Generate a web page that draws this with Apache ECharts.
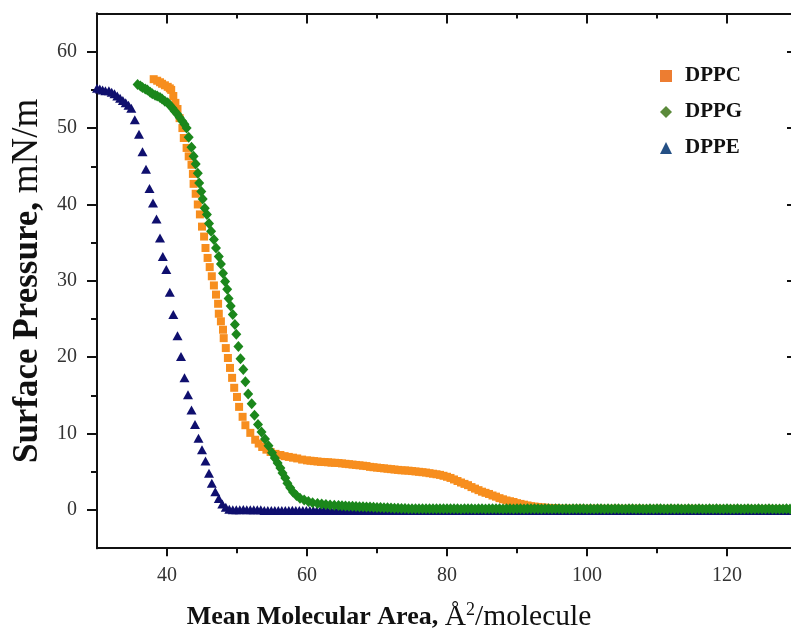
<!DOCTYPE html>
<html>
<head>
<meta charset="utf-8">
<script src="https://cdn.jsdelivr.net/npm/echarts@6/dist/echarts.min.js"></script>
<style>
  html, body { margin: 0; padding: 0; background: #fff; }
  #chart { width: 791px; height: 641px; }
</style>
</head>
<body>
<div id="chart"></div>
<script>
// Langmuir isotherms: surface pressure vs. mean molecular area
const seriesNames = ['DPPC', 'DPPG', 'DPPE'];

const dppcArea = [
  38.1,38.6,39.0,39.3,39.7,40.1,40.4,40.6,40.9,41.2,
  41.5,41.8,42.2,42.4,42.8,43.1,43.5,43.7,43.8,44.1,
  44.4,44.7,45.0,45.3,45.5,45.8,46.1,46.4,46.7,47.0,
  47.3,47.4,47.7,48.0,48.1,48.4,48.7,49.0,49.3,49.6,
  50.0,50.3,50.8,51.2,51.9,52.6,53.1,53.6,54.2,54.8,
  55.5,56.2,56.8,57.4,58.0,58.6,59.3,
  60.0,60.5,61.0,61.5,62.0,62.5,63.0,63.5,64.0,64.5,
  65.0,65.5,66.0,66.5,67.0,67.5,68.0,68.5,69.0,69.5,
  70.0,70.5,71.0,71.5,72.0,72.5,73.0,73.5,74.0,74.5,
  75.0,75.5,76.0,76.5,77.0,77.5,78.0,78.5,79.0,79.5,
  80.0,80.5,81.0,81.5,82.0,82.5,83.0,83.5,84.0,84.5,
  85.0,85.5,86.0,86.5,87.0,87.5,88.0,88.5,89.0,89.5,
  90.0,90.5,91.0,91.5,92.0,92.5,93.0,93.5,94.0,94.5,95.0,95.5,
  96,97,98,99,100,101,102,103,104,105,
  106,107,108,109,110,111,112,113,114,115,
  116,117,118,119,120,121,122,123,124,125,
  126,127,128,129,130
];
const dppcPressure = [
  56.4,56.2,56.0,55.8,55.6,55.4,55.2,55.0,54.2,53.3,
  52.5,51.3,50.0,48.7,47.4,46.3,45.2,44.0,42.7,41.4,
  40.0,38.7,37.1,35.8,34.3,33.0,31.8,30.6,29.4,28.2,
  27.0,25.7,24.7,23.6,22.5,21.2,19.9,18.6,17.3,16.0,
  14.8,13.5,12.2,11.1,10.1,9.2,8.7,8.25,7.9,7.6,
  7.35,7.2,7.05,6.95,6.85,6.75,6.6,
  6.5,6.45,6.4,6.35,6.3,6.28,6.25,6.2,6.18,6.15,
  6.1,6.05,6.0,5.95,5.9,5.85,5.8,5.75,5.65,5.6,
  5.55,5.5,5.45,5.4,5.35,5.3,5.25,5.2,5.18,5.15,
  5.1,5.05,5.0,4.95,4.9,4.82,4.75,4.68,4.6,4.48,
  4.35,4.2,4.0,3.8,3.6,3.42,3.25,3.0,2.8,2.6,
  2.4,2.25,2.1,1.9,1.75,1.55,1.4,1.25,1.15,1.05,
  0.9,0.8,0.7,0.6,0.5,0.45,0.4,0.35,0.3,0.28,0.25,0.22,
  0.2,0.19,0.18,0.18,0.17,0.18,0.17,0.16,0.17,0.16,
  0.16,0.17,0.16,0.15,0.16,0.15,0.16,0.15,0.15,0.16,
  0.15,0.14,0.15,0.15,0.14,0.15,0.14,0.15,0.14,0.14,
  0.15,0.14,0.14,0.13,0.14
];

const dppgArea = [
  35.8,36.2,36.5,36.9,37.2,37.6,37.9,38.3,38.6,39.0,
  39.3,39.7,40.1,40.4,40.8,41.1,41.5,41.8,42.2,42.5,
  42.8,43.1,43.5,43.8,44.1,44.4,44.6,44.9,45.1,45.4,
  45.7,46.0,46.3,46.7,47.0,47.4,47.7,48.0,48.3,48.6,
  48.8,49.1,49.4,49.7,49.9,50.2,50.5,50.9,51.2,51.6,
  52.1,52.5,53.0,53.5,54.0,54.5,55.0,55.4,55.8,56.2,
  56.5,56.9,57.2,57.6,58.0,58.5,59.0,59.6,60.2,60.8,
  61.5,62.1,62.7,63.3,63.9,64.5,65.0,
  65.5,66.0,66.5,67.0,67.5,68.0,68.5,69.0,69.5,70.0,
  70.5,71.0,71.5,72.0,72.5,73.0,73.5,74.0,74.5,75.0,
  75.5,76.0,76.5,77.0,77.5,78.0,78.5,79.0,79.5,80.0,
  80.5,81.0,81.5,82.0,82.5,83.0,83.5,84.0,84.5,85.0,
  85.5,86.0,86.5,87.0,87.5,88.0,88.5,89.0,89.5,90.0,
  90.5,91.0,91.5,92.0,92.5,93.0,93.5,94.0,94.5,95.0,
  95.5,96.0,96.5,97.0,97.5,98.0,98.5,99.0,99.5,100.0,
  100.5,101.0,101.5,102.0,102.5,103.0,103.5,104.0,104.5,105.0,
  105.5,106.0,106.5,107.0,107.5,108.0,108.5,109.0,109.5,110.0,
  110.5,111.0,111.5,112.0,112.5,113.0,113.5,114.0,114.5,115.0,
  115.5,116.0,116.5,117.0,117.5,118.0,118.5,119.0,119.5,120.0,
  120.5,121.0,121.5,122.0,122.5,123.0,123.5,124.0,124.5,125.0,
  125.5,126.0,126.5,127.0,127.5,128.0,128.5,129.0,129.5,130.0
];
const dppgPressure = [
  55.7,55.5,55.3,55.1,55.0,54.7,54.5,54.3,54.2,54.0,
  53.8,53.5,53.3,53.0,52.6,52.2,51.8,51.4,50.9,50.5,
  50.0,48.8,47.5,46.3,45.3,44.1,42.8,41.7,40.7,39.5,
  38.7,37.5,36.5,35.4,34.3,33.2,32.2,31.0,29.9,28.9,
  27.7,26.7,25.6,24.3,23.0,21.4,19.8,18.4,16.8,15.2,
  13.9,12.4,11.2,10.2,9.3,8.4,7.5,6.8,6.15,5.5,
  4.85,4.2,3.5,2.9,2.35,1.9,1.55,1.3,1.1,0.95,
  0.85,0.78,0.72,0.66,0.62,0.58,0.55,
  0.53,0.5,0.48,0.46,0.44,0.42,0.4,0.38,0.36,0.34,
  0.32,0.3,0.28,0.26,0.24,0.22,0.2,0.19,0.18,0.17,
  0.17,0.16,0.17,0.16,0.15,0.16,0.15,0.16,0.15,0.15,
  0.16,0.15,0.15,0.14,0.15,0.16,0.15,0.14,0.15,0.15,
  0.14,0.15,0.16,0.15,0.15,0.14,0.15,0.15,0.14,0.15,
  0.15,0.14,0.15,0.15,0.16,0.15,0.14,0.15,0.15,0.14,
  0.15,0.15,0.14,0.15,0.14,0.15,0.15,0.16,0.15,0.14,
  0.15,0.14,0.15,0.15,0.14,0.15,0.14,0.15,0.15,0.14,
  0.14,0.15,0.15,0.14,0.15,0.14,0.14,0.15,0.14,0.15,
  0.15,0.14,0.14,0.15,0.14,0.15,0.14,0.14,0.15,0.14,
  0.14,0.15,0.14,0.14,0.15,0.14,0.15,0.14,0.14,0.15,
  0.14,0.14,0.15,0.14,0.14,0.15,0.14,0.14,0.15,0.14,
  0.14,0.15,0.14,0.14,0.13,0.14,0.15,0.14,0.14,0.14
];

const dppeArea = [
  30.0,30.4,30.8,31.2,31.7,32.1,32.5,32.9,33.3,33.7,
  34.1,34.5,34.9,35.4,36.0,36.5,37.0,37.5,38.0,38.5,
  39.0,39.4,39.9,40.4,40.9,41.5,42.0,42.5,43.0,43.5,
  44.0,44.5,45.0,45.5,46.0,46.4,46.9,47.4,47.9,48.4,
  48.9,49.4,49.9,
  50.4,50.9,51.4,51.9,52.4,52.9,53.4,53.9,54.4,54.9,
  55.4,55.9,56.4,56.9,57.4,57.9,58.4,58.9,59.4,59.9,
  60.4,60.9,61.4,61.9,62.4,62.9,63.4,63.9,64.4,64.9,
  65.4,65.9,66.4,66.9,67.4,67.9,68.4,68.9,69.4,69.9,
  70.4,70.9,71.4,71.9,72.4,72.9,73.4,73.9,74.4,74.9,
  75.4,75.9,76.4,76.9,77.4,77.9,78.4,78.9,79.4,79.9,
  80.4,80.9,81.4,81.9,82.4,82.9,83.4,83.9,84.4,84.9,
  85.4,85.9,86.4,86.9,87.4,87.9,88.4,88.9,89.4,89.9,
  90.4,90.9,91.4,91.9,92.4,92.9,93.4,93.9,94.4,94.9,
  95.4,95.9,96.4,96.9,97.4,97.9,98.4,98.9,99.4,99.9,
  100.4,100.9,101.4,101.9,102.4,102.9,103.4,103.9,104.4,104.9,
  105.4,105.9,106.4,106.9,107.4,107.9,108.4,108.9,109.4,109.9,
  110.4,110.9,111.4,111.9,112.4,112.9,113.4,113.9,114.4,114.9,
  115.4,115.9,116.4,116.9,117.4,117.9,118.4,118.9,119.4,119.9,
  120.4,120.9,121.4,121.9,122.4,122.9,123.4,123.9,124.4,124.9,
  125.4,125.9,126.4,126.9,127.4,127.9,128.4,128.9,129.4,129.9
];
const dppePressure = [
  55.2,55.1,55.0,54.9,54.9,54.7,54.5,54.2,53.9,53.6,
  53.3,53.0,52.6,51.1,49.2,46.9,44.6,42.1,40.2,38.1,
  35.6,33.2,31.5,28.5,25.6,22.8,20.1,17.3,15.1,13.1,
  11.2,9.4,7.9,6.4,4.8,3.5,2.4,1.5,0.8,0.35,
  0.1,0.05,0.05,
  0.05,0.06,0.05,0.04,0.05,0.03,0.02,-0.05,-0.06,-0.05,
  -0.06,-0.05,-0.07,-0.05,-0.06,-0.04,-0.05,-0.06,-0.05,-0.07,
  -0.05,-0.06,-0.05,-0.06,-0.07,-0.05,-0.06,-0.05,-0.06,-0.05,
  -0.07,-0.06,-0.05,-0.06,-0.05,-0.07,-0.06,-0.05,-0.06,-0.06,
  -0.05,-0.06,-0.07,-0.05,-0.06,-0.05,-0.06,-0.07,-0.05,-0.06,
  -0.06,-0.05,-0.06,-0.07,-0.06,-0.05,-0.06,-0.05,-0.07,-0.06,
  -0.05,-0.06,-0.06,-0.05,-0.07,-0.06,-0.05,-0.06,-0.05,-0.06,
  -0.07,-0.05,-0.06,-0.06,-0.05,-0.06,-0.07,-0.05,-0.06,-0.05,
  -0.06,-0.07,-0.05,-0.06,-0.05,-0.06,-0.06,-0.07,-0.05,-0.06,
  -0.05,-0.06,-0.07,-0.06,-0.05,-0.06,-0.05,-0.06,-0.07,-0.05,
  -0.06,-0.05,-0.06,-0.06,-0.07,-0.05,-0.06,-0.05,-0.06,-0.07,
  -0.05,-0.06,-0.06,-0.05,-0.07,-0.06,-0.05,-0.06,-0.05,-0.06,
  -0.07,-0.05,-0.06,-0.05,-0.06,-0.06,-0.07,-0.05,-0.06,-0.05,
  -0.06,-0.07,-0.05,-0.06,-0.05,-0.06,-0.07,-0.06,-0.05,-0.06,
  -0.05,-0.06,-0.06,-0.07,-0.05,-0.06,-0.05,-0.06,-0.07,-0.05,
  -0.06,-0.05,-0.06,-0.07,-0.06,-0.05,-0.06,-0.05,-0.06,-0.07
];

// Tick positions
const xLabelTicks = [40, 60, 80, 100, 120];
const xMinorTicks = [50, 70, 90, 110];
const yLabelTicks = [0, 10, 20, 30, 40, 50, 60];
const yMinorTicks = [5, 15, 25, 35, 45, 55];

const pair = (xs, ys) => xs.map((x, i) => [x, ys[i]]);

const SERIF = '"Liberation Serif", "Times New Roman", serif';
const axisLine = { show: true, onZero: false, lineStyle: { color: '#111', width: 2 } };
const tickStyle = { color: '#111', width: 2 };

function xAx(pos, values, len, inside, labels) {
  return {
    type: 'value', position: pos, min: 30, max: 130,
    axisLine: axisLine,
    splitLine: { show: false },
    axisTick: { show: true, inside: inside, length: len, lineStyle: tickStyle, customValues: values },
    axisLabel: labels ? {
      show: true, customValues: values, margin: 18,
      fontFamily: SERIF, fontSize: 20, color: '#333'
    } : { show: false }
  };
}
function yAx(pos, values, len, inside, labels) {
  return {
    type: 'value', position: pos, min: -5, max: 65,
    axisLine: axisLine,
    splitLine: { show: false },
    axisTick: { show: true, inside: inside, length: len, lineStyle: tickStyle, customValues: values },
    axisLabel: labels ? {
      show: true, customValues: values, margin: 20,
      fontFamily: SERIF, fontSize: 20, color: '#333'
    } : { show: false }
  };
}

const xMain = xAx('bottom', xLabelTicks, 8, false, true);
xMain.name = '{b|Mean Molecular Area, }{r|Å}{s|2}{r|/molecule}';
xMain.nameLocation = 'middle';
xMain.nameGap = 53;
xMain.nameTextStyle = {
  padding: [0, 116, 0, 0],
  rich: {
    b: { fontFamily: SERIF, fontWeight: 'bold', fontSize: 26, color: '#111' },
    r: { fontFamily: SERIF, fontWeight: 'normal', fontSize: 29.5, color: '#111' },
    s: { fontFamily: SERIF, fontWeight: 'normal', fontSize: 18, color: '#111', verticalAlign: 'top', padding: [0, 0, 14, 0] }
  }
};

const yMain = yAx('left', yLabelTicks, 10, false, true);
yMain.name = '{b|Surface Pressure, }{r|mN/m}';
yMain.nameLocation = 'middle';
yMain.nameRotate = 90;
yMain.nameGap = 51;
yMain.nameTextStyle = {
  rich: {
    b: { fontFamily: SERIF, fontWeight: 'bold', fontSize: 35, color: '#111' },
    r: { fontFamily: SERIF, fontWeight: 'normal', fontSize: 37, color: '#111' }
  }
};

const option = {
  animation: false,
  backgroundColor: '#ffffff',
  // the plot frame runs slightly past the right edge of the canvas
  grid: { left: 97, top: 13.5, width: 700, bottom: 92.8, outerBoundsMode: 'none', containLabel: false },
  legend: {
    orient: 'vertical',
    left: 655,
    top: 60,
    itemWidth: 12,
    itemHeight: 12,
    itemGap: 14,
    textStyle: {
      fontFamily: SERIF, fontWeight: 'bold', fontSize: 21, color: '#111',
      lineHeight: 22, padding: [0, 0, 0, 8]
    },
    data: [
      { name: 'DPPC', icon: 'rect', itemStyle: { color: '#ED7D31' } },
      { name: 'DPPG', icon: 'diamond', itemStyle: { color: '#5B8A3A' } },
      { name: 'DPPE', icon: 'triangle', itemStyle: { color: '#245085' } }
    ]
  },
  xAxis: [
    xMain,
    xAx('bottom', xMinorTicks, 5, false, false),
    xAx('top', xLabelTicks, 10, true, false),
    xAx('top', xMinorTicks, 5, true, false)
  ],
  yAxis: [
    yMain,
    yAx('left', yMinorTicks, 6, false, false),
    yAx('right', yLabelTicks, 10, true, false),
    yAx('right', yMinorTicks, 5, true, false)
  ],
  series: [
    {
      name: seriesNames[0], type: 'scatter', z: 2,
      symbol: 'rect', symbolSize: 8,
      itemStyle: { color: '#F78E1E', opacity: 1 },
      data: pair(dppcArea, dppcPressure)
    },
    {
      name: seriesNames[2], type: 'scatter', z: 3,
      symbol: 'triangle', symbolSize: [10, 9],
      itemStyle: { color: '#0F0F6E', opacity: 1 },
      data: pair(dppeArea, dppePressure)
    },
    {
      name: seriesNames[1], type: 'scatter', z: 4,
      symbol: 'diamond', symbolSize: [10, 11],
      itemStyle: { color: '#1B871B', opacity: 1 },
      data: pair(dppgArea, dppgPressure)
    }
  ]
};

const chart = echarts.init(document.getElementById('chart'), null, { renderer: 'canvas' });
chart.setOption(option);
</script>
</body>
</html>
